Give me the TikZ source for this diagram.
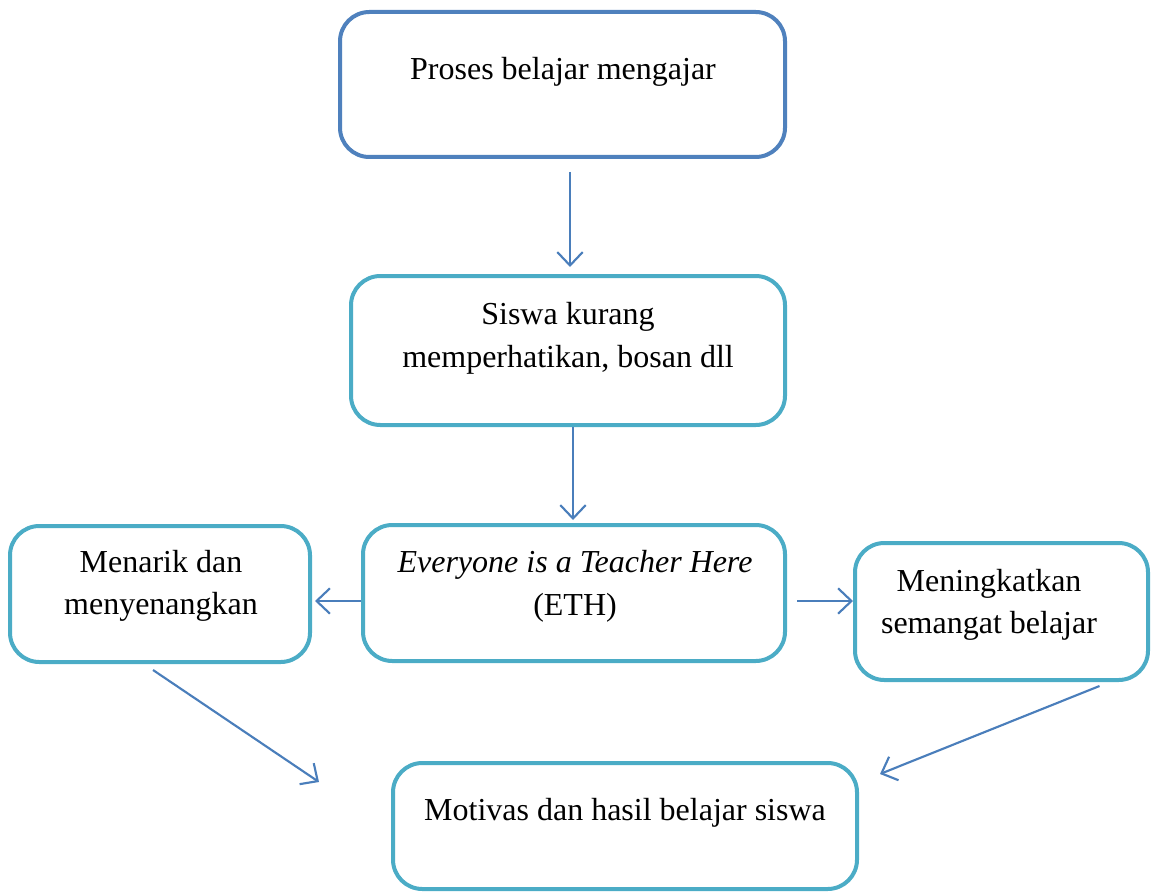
\documentclass[tikz,border=0pt]{standalone}
\usepackage{fontspec}
\setmainfont{Liberation Serif}
\usetikzlibrary{arrows.meta}
\definecolor{darkblue}{HTML}{4F81BD}
\definecolor{aqua}{HTML}{4BACC6}
\definecolor{arrowblue}{HTML}{4A7EBB}
\begin{document}
\begin{tikzpicture}[x=0.75pt, y=-0.75pt,
  box/.style = {shape=rectangle, rounded corners=22pt, draw=aqua,
    line width=3pt, fill=white},
  txt/.style = {align=center, inner sep=0pt,
    font=\fontsize{24}{32}\selectfont},
  arr/.style = {draw=arrowblue, line width=1.6pt,
    -{Straight Barb[length=10pt, width=19pt, line width=1.6pt]}}]
  \useasboundingbox (0,0) rectangle (1151,891);
  % boxes
  \node[box, draw=darkblue, minimum width=333.75pt, minimum height=108.75pt]
    (proses) at (562.5,84.5) {};
  \node[box, minimum width=325.5pt, minimum height=111.75pt]
    (siswa) at (568,350.5) {};
  \node[box, minimum width=316.5pt, minimum height=102pt]
    (eth) at (574,593) {};
  \node[box, minimum width=225pt, minimum height=102pt]
    (menarik) at (160,594) {};
  \node[box, minimum width=219.75pt, minimum height=102.75pt]
    (semangat) at (1001.5,611.5) {};
  \node[box, minimum width=348pt, minimum height=94.5pt]
    (motivasi) at (625,826) {};
  % texts
  \node[txt] (proses-t) at (563,72) {Proses belajar mengajar};
  \node[txt] (siswa-t) at (568,338) {Siswa kurang\\memperhatikan, bosan dll};
  \node[txt] (eth-t) at (575,586) {\textit{Everyone is a Teacher Here}\\(ETH)};
  \node[txt] (menarik-t) at (161,586) {Menarik dan\\menyenangkan};
  \node[txt] (semangat-t) at (989,605) {Meningkatkan\\semangat belajar};
  \node[txt] (motivasi-t) at (625,813) {Motivas dan hasil belajar siswa};
  % arrows
  \draw[arr] ([shift={(7.5,13)}]proses.south) -- ([shift={(2,-7)}]siswa.north);
  \draw[arr] ([shift={(5,0)}]siswa.south) -- ([shift={(-1,-3)}]eth.north);
  \draw[arr] ([shift={(0,8)}]eth.west) -- ([shift={(3,7)}]menarik.east);
  \draw[arr] ([shift={(10,8)}]eth.east) -- ([shift={(0,-10.5)}]semangat.west);
  \draw[arr] ([shift={(-7,6)}]menarik.south) -- ([shift={(-72,21)}]motivasi.north west);
  \draw[arr] ([shift={(98,4)}]semangat.south) -- ([shift={(21,13)}]motivasi.north east);
\end{tikzpicture}
\end{document}
